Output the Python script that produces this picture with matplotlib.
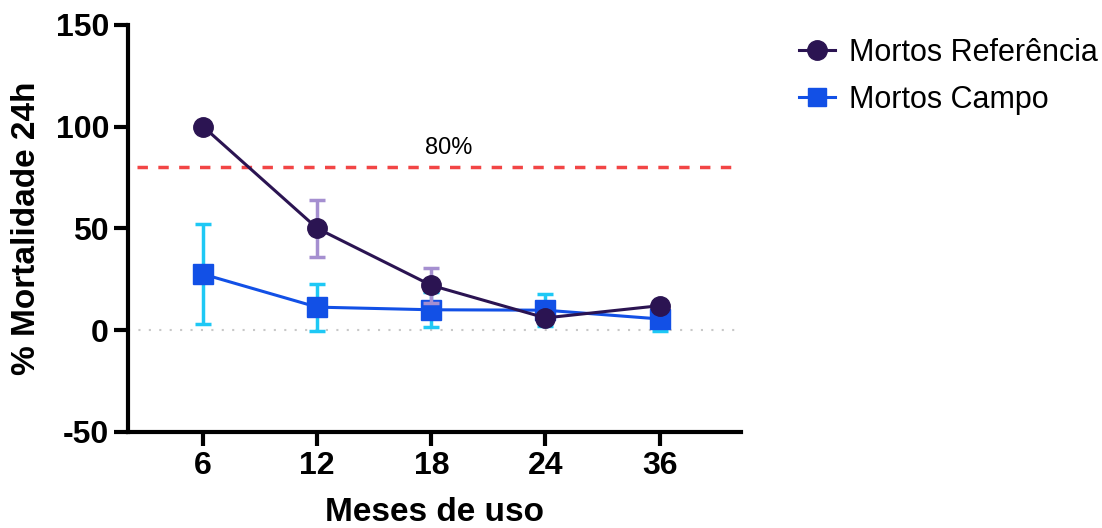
import numpy as np
from matplotlib import pyplot as plt
from matplotlib.lines import Line2D

plt.rcParams['font.family'] = ['Liberation Sans', 'DejaVu Sans']
plt.rcParams['axes.unicode_minus'] = False

meses = ['6', '12', '18', '24', '36']
ref_vals = [100, 50, 22, 6, 12]
ref_err = [0, 14, 8.5, 0, 0]
campo_vals = [27.5, 11.3, 10, 9.8, 5.5]
campo_err = [24.5, 11.5, 8.5, 8, 6]
limite = 80

x = np.arange(len(meses))
cor_ref = '#2b1452'
cor_campo = '#1250e6'

fig = plt.figure(figsize=(11.02, 5.28), dpi=100)
ax = fig.add_axes([0.116, 0.182, 0.556, 0.771])

ax.axhline(0, color='#c8c8c8', lw=1.5, ls=(0, (1, 4)), zorder=1)
ax.axhline(limite, xmin=0.015, color='#f24545', lw=2.5, ls=(0, (3, 3)), zorder=1)
ax.text(2.15, 84, '80%', fontsize=17, ha='center', va='bottom')

ax.errorbar(x, campo_vals, yerr=campo_err, color=cor_campo, ecolor='#1ec8f5',
            elinewidth=2.5, capsize=6, capthick=2.5, lw=2.2, marker='s',
            markersize=14, zorder=3)
ax.errorbar(x, ref_vals, yerr=ref_err, color=cor_ref, ecolor='#a58fd0',
            elinewidth=2.5, capsize=6, capthick=2.5, lw=2.2, marker='o',
            markersize=14, zorder=4)

ax.set_xlim(-0.66, 4.71)
ax.set_ylim(-50, 150)
ax.set_yticks([-50, 0, 50, 100, 150])
ax.set_xticks(x)
ax.set_xticklabels(meses)

for s in ['top', 'right']:
    ax.spines[s].set_visible(False)
for s in ['left', 'bottom']:
    ax.spines[s].set_linewidth(3)
ax.tick_params(width=3, length=10, labelsize=23)
for lab in ax.get_xticklabels() + ax.get_yticklabels():
    lab.set_fontweight('bold')

ax.set_xlabel('Meses de uso', fontsize=24, fontweight='bold', labelpad=12)
ax.set_ylabel('% Mortalidade 24h', fontsize=24, fontweight='bold', labelpad=10)

handles = [Line2D([], [], color=cor_ref, marker='o', markersize=14, lw=2.2),
           Line2D([], [], color=cor_campo, marker='s', markersize=13, lw=2.2)]
ax.legend(handles, ['Mortos Referência', 'Mortos Campo'], loc='upper left',
          bbox_to_anchor=(1.05, 1.035), frameon=False, fontsize=22,
          handlelength=1.2, handletextpad=0.45, labelspacing=0.55)

plt.savefig('out.png')
